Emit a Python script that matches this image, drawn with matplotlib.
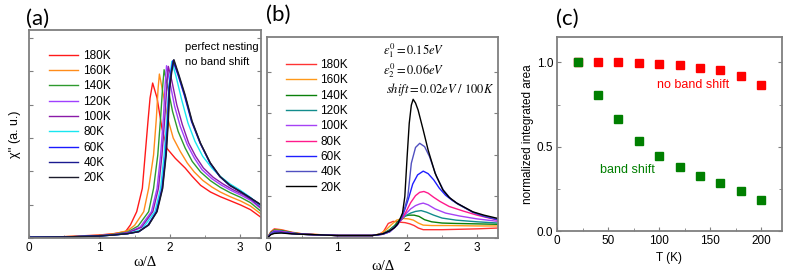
import matplotlib
matplotlib.use('Agg')
import matplotlib.pyplot as plt
from matplotlib.ticker import MultipleLocator

plt.rcParams['font.family'] = ['Liberation Sans', 'DejaVu Sans']
plt.rcParams['mathtext.fontset'] = 'stix'

# ---- panel (a): perfect nesting, no band shift ----
a_labels = ['180K', '160K', '140K', '120K', '100K', '80K', '60K', '40K', '20K']
a_colors = ['#ff1a1a', '#ff8c1a', '#2e9a2e', '#a040ff', '#8a1aa8',
            '#19e6f0', '#1a1aff', '#1a1a90', '#1c1c2c']

a_x_180 = [0.0, 0.5, 1.0, 1.2, 1.37, 1.44, 1.53, 1.61, 1.65, 1.69, 1.72, 1.757,
           1.82, 1.89, 1.96, 2.08, 2.22, 2.32, 2.44, 2.58, 2.72, 2.86, 3.01, 3.15, 3.3]
a_y_180 = [0.02, 0.04, 0.09, 0.13, 0.19, 0.39, 0.79, 1.49, 2.49, 3.49, 4.2, 4.65,
           4.2, 3.29, 2.69, 2.39, 2.1, 1.85, 1.58, 1.38, 1.24, 1.12, 0.99, 0.85, 0.62]

a_x_160 = [0.0, 0.5, 1.0, 1.2, 1.4, 1.5, 1.63, 1.70, 1.77, 1.81, 1.835, 1.853,
           1.90, 1.97, 2.05, 2.15, 2.25, 2.35, 2.47, 2.6, 2.72, 2.86, 3.01, 3.15, 3.3]
a_y_160 = [0.02, 0.04, 0.08, 0.12, 0.22, 0.38, 0.79, 1.49, 2.49, 3.6, 4.5, 4.92,
           4.4, 3.6, 3.0, 2.6, 2.25, 1.98, 1.73, 1.53, 1.38, 1.24, 1.11, 0.96, 0.72]

a_x_140 = [0.0, 0.5, 1.0, 1.2, 1.4, 1.55, 1.70, 1.77, 1.83, 1.87, 1.90, 1.92,
           1.97, 2.04, 2.12, 2.22, 2.32, 2.44, 2.58, 2.72, 2.86, 3.01, 3.15, 3.3]
a_y_140 = [0.02, 0.03, 0.07, 0.11, 0.18, 0.36, 0.79, 1.49, 2.49, 3.6, 4.55, 5.05,
           4.55, 3.8, 3.2, 2.7, 2.3, 1.98, 1.72, 1.52, 1.36, 1.22, 1.06, 0.8]

a_x_120 = [0.0, 0.5, 1.0, 1.2, 1.4, 1.58, 1.74, 1.82, 1.87, 1.91, 1.935, 1.955,
           2.0, 2.07, 2.15, 2.25, 2.35, 2.46, 2.6, 2.74, 2.88, 3.02, 3.16, 3.3]
a_y_120 = [0.02, 0.03, 0.07, 0.1, 0.16, 0.33, 0.79, 1.49, 2.49, 3.6, 4.6, 5.17,
           4.7, 3.95, 3.35, 2.8, 2.4, 2.05, 1.78, 1.58, 1.42, 1.28, 1.12, 0.88]

a_x_100 = [0.0, 0.5, 1.0, 1.2, 1.4, 1.6, 1.76, 1.84, 1.89, 1.93, 1.96, 1.98,
           2.03, 2.1, 2.18, 2.27, 2.37, 2.48, 2.62, 2.76, 2.9, 3.04, 3.17, 3.3]
a_y_100 = [0.02, 0.03, 0.07, 0.1, 0.15, 0.32, 0.79, 1.49, 2.49, 3.6, 4.6, 5.15,
           4.72, 4.0, 3.4, 2.85, 2.45, 2.1, 1.82, 1.62, 1.45, 1.31, 1.14, 0.9]

a_x_80 = [0.0, 0.5, 1.0, 1.2, 1.4, 1.6, 1.79, 1.87, 1.92, 1.96, 1.99, 2.03,
          2.09, 2.17, 2.26, 2.36, 2.47, 2.6, 2.72, 2.86, 3.0, 3.15, 3.3]
a_y_80 = [0.02, 0.03, 0.06, 0.09, 0.13, 0.25, 0.79, 1.49, 2.49, 3.6, 4.6, 5.3,
          4.85, 4.15, 3.45, 2.9, 2.45, 2.1, 1.85, 1.62, 1.44, 1.22, 0.95]

a_x_60 = [0.0, 0.5, 1.0, 1.2, 1.4, 1.56, 1.69, 1.81, 1.89, 1.94, 1.97, 1.99, 2.02,
          2.045, 2.12, 2.21, 2.31, 2.43, 2.57, 2.71, 2.85, 3.0, 3.15, 3.3]
a_y_60 = [0.02, 0.03, 0.06, 0.09, 0.13, 0.19, 0.39, 0.79, 1.49, 2.49, 3.49, 4.5,
          5.0, 5.32, 4.88, 4.27, 3.5, 2.86, 2.26, 1.85, 1.58, 1.4, 1.2, 0.98]

a_x_40 = [0.0, 0.5, 1.0, 1.2, 1.4, 1.56, 1.70, 1.815, 1.895, 1.945, 1.975, 1.995,
          2.025, 2.055, 2.125, 2.215, 2.315, 2.435, 2.575, 2.715, 2.855, 3.005, 3.15, 3.3]
a_y_40 = [0.02, 0.03, 0.06, 0.09, 0.13, 0.19, 0.39, 0.79, 1.49, 2.49, 3.49, 4.5,
          5.0, 5.34, 4.89, 4.28, 3.5, 2.85, 2.25, 1.84, 1.58, 1.39, 1.2, 0.99]

a_x_20 = [0.0, 0.5, 1.0, 1.2, 1.4, 1.56, 1.70, 1.82, 1.90, 1.95, 1.98, 2.00,
          2.03, 2.06, 2.13, 2.22, 2.32, 2.44, 2.58, 2.72, 2.86, 3.01, 3.15, 3.3]
a_y_20 = [0.02, 0.03, 0.06, 0.09, 0.13, 0.19, 0.39, 0.79, 1.49, 2.49, 3.49, 4.5,
          5.0, 5.35, 4.9, 4.29, 3.5, 2.84, 2.25, 1.84, 1.58, 1.39, 1.2, 1.0]

a_xs = [a_x_180, a_x_160, a_x_140, a_x_120, a_x_100, a_x_80, a_x_60, a_x_40, a_x_20]
a_ys = [a_y_180, a_y_160, a_y_140, a_y_120, a_y_100, a_y_80, a_y_60, a_y_40, a_y_20]

# ---- panel (b): with band shift ----
b_labels = ['180K', '160K', '140K', '120K', '100K', '80K', '60K', '40K', '20K']
b_colors = ['#ff3333', '#ff9919', '#0a800a', '#128c8c', '#a642f5',
            '#ff1a8c', '#1f1fff', '#5050c0', '#000000']

b_x_180 = [0.0, 0.05, 0.1, 0.2, 0.35, 0.5, 1.0, 1.5, 1.6, 1.66, 1.73, 1.8, 1.9,
           1.97, 2.04, 2.1, 2.16, 2.23, 2.5, 3.0, 3.3]
b_y_180 = [0.0, 0.15, 0.22, 0.2, 0.14, 0.1, 0.06, 0.06, 0.09, 0.15, 0.35, 0.4, 0.38,
           0.37, 0.34, 0.3, 0.24, 0.2, 0.2, 0.22, 0.24]

b_x_160 = [0.0, 0.05, 0.1, 0.2, 0.35, 0.5, 1.0, 1.5, 1.62, 1.7, 1.78, 1.85, 1.94,
           2.02, 2.09, 2.16, 2.23, 2.35, 2.6, 3.0, 3.3]
b_y_160 = [0.0, 0.14, 0.2, 0.19, 0.13, 0.1, 0.06, 0.06, 0.1, 0.2, 0.33, 0.43, 0.47,
           0.46, 0.43, 0.36, 0.31, 0.3, 0.3, 0.29, 0.29]

b_x_140 = [0.0, 0.05, 0.1, 0.2, 0.35, 0.5, 1.0, 1.5, 1.65, 1.75, 1.82, 1.88, 1.95,
           2.02, 2.1, 2.17, 2.25, 2.35, 2.5, 2.7, 3.0, 3.3]
b_y_140 = [0.0, 0.13, 0.19, 0.18, 0.13, 0.09, 0.06, 0.06, 0.1, 0.2, 0.3, 0.42, 0.52,
           0.55, 0.55, 0.52, 0.44, 0.39, 0.36, 0.35, 0.34, 0.33]

b_x_120 = [0.0, 0.05, 0.1, 0.2, 0.35, 0.5, 1.0, 1.5, 1.65, 1.75, 1.85, 1.92, 1.98,
           2.05, 2.12, 2.2, 2.28, 2.38, 2.5, 2.7, 3.0, 3.3]
b_y_120 = [0.0, 0.12, 0.18, 0.17, 0.12, 0.09, 0.06, 0.06, 0.1, 0.18, 0.32, 0.44, 0.54,
           0.6, 0.64, 0.66, 0.62, 0.55, 0.48, 0.43, 0.39, 0.36]

b_x_100 = [0.0, 0.05, 0.1, 0.2, 0.35, 0.5, 1.0, 1.5, 1.65, 1.75, 1.85, 1.92, 1.98,
           2.05, 2.12, 2.18, 2.23, 2.3, 2.4, 2.55, 2.75, 3.0, 3.3]
b_y_100 = [0.0, 0.11, 0.17, 0.16, 0.12, 0.09, 0.06, 0.06, 0.1, 0.17, 0.3, 0.45, 0.58,
           0.7, 0.78, 0.82, 0.84, 0.8, 0.7, 0.6, 0.53, 0.46, 0.4]

b_x_80 = [0.0, 0.05, 0.1, 0.2, 0.35, 0.5, 1.0, 1.5, 1.65, 1.75, 1.85, 1.92, 1.98,
          2.05, 2.12, 2.18, 2.24, 2.3, 2.38, 2.47, 2.6, 2.8, 3.0, 3.15, 3.3]
b_y_80 = [0.0, 0.1, 0.16, 0.15, 0.11, 0.09, 0.06, 0.06, 0.09, 0.15, 0.3, 0.45, 0.62,
          0.85, 1.02, 1.1, 1.12, 1.08, 0.98, 0.88, 0.76, 0.65, 0.55, 0.49, 0.43]

b_x_60 = [0.0, 0.05, 0.1, 0.2, 0.35, 0.5, 1.0, 1.5, 1.65, 1.75, 1.85, 1.92, 1.97,
          2.02, 2.08, 2.15, 2.23, 2.3, 2.38, 2.46, 2.55, 2.65, 2.75, 2.94, 3.1, 3.3]
b_y_60 = [0.0, 0.1, 0.15, 0.14, 0.11, 0.09, 0.06, 0.06, 0.09, 0.15, 0.3, 0.48, 0.7,
          0.95, 1.3, 1.52, 1.61, 1.55, 1.4, 1.2, 1.03, 0.9, 0.8, 0.62, 0.52, 0.44]

b_x_40 = [0.0, 0.05, 0.1, 0.2, 0.35, 0.5, 1.0, 1.5, 1.65, 1.75, 1.85, 1.92, 1.97,
          2.01, 2.06, 2.12, 2.18, 2.25, 2.32, 2.42, 2.52, 2.62, 2.72, 2.94, 3.1, 3.3]
b_y_40 = [0.0, 0.1, 0.14, 0.13, 0.1, 0.09, 0.06, 0.06, 0.09, 0.15, 0.3, 0.5, 0.75,
          1.0, 1.8, 2.18, 2.28, 2.2, 1.96, 1.48, 1.15, 0.95, 0.82, 0.62, 0.53, 0.45]

b_x_20 = [0.0, 0.05, 0.1, 0.2, 0.35, 0.5, 1.0, 1.5, 1.65, 1.75, 1.82, 1.87, 1.934,
          1.967, 2.0, 2.03, 2.06, 2.086, 2.12, 2.157, 2.23, 2.3, 2.4, 2.51, 2.6,
          2.71, 2.94, 3.1, 3.3]
b_y_20 = [0.0, 0.08, 0.11, 0.12, 0.1, 0.09, 0.06, 0.06, 0.1, 0.17, 0.25, 0.35, 0.6,
          1.0, 1.96, 2.76, 3.2, 3.34, 3.25, 3.08, 2.6, 2.12, 1.56, 1.16, 0.98,
          0.84, 0.63, 0.55, 0.47]

b_xs = [b_x_180, b_x_160, b_x_140, b_x_120, b_x_100, b_x_80, b_x_60, b_x_40, b_x_20]
b_ys = [b_y_180, b_y_160, b_y_140, b_y_120, b_y_100, b_y_80, b_y_60, b_y_40, b_y_20]

# ---- panel (c): normalized integrated area ----
temps = [20, 40, 60, 80, 100, 120, 140, 160, 180, 200]
area_no_shift = [1.0, 1.0, 1.0, 0.996, 0.992, 0.984, 0.968, 0.953, 0.921, 0.868]
area_shift = [1.0, 0.808, 0.664, 0.536, 0.447, 0.38, 0.329, 0.286, 0.24, 0.185]

SPINE = '#7f7f7f'
SERIF = ['Liberation Serif', 'DejaVu Serif']


def style_axes(ax):
    for s in ax.spines.values():
        s.set_color(SPINE)
        s.set_linewidth(1.3)
    ax.tick_params(which='both', direction='in', right=True, color=SPINE,
                   labelsize=8.5, pad=3)
    ax.tick_params(which='major', length=3)
    ax.tick_params(which='minor', length=2)


def spectrum_panel(ax, xs, ys, labels, colors, ytop, legend_xy):
    for x, y, lab, c in zip(xs, ys, labels, colors):
        ax.plot(x, y, color=c, lw=1.0, label=lab)
    ax.set_xlim(0, 3.3)
    ax.set_ylim(0, ytop)
    ax.xaxis.set_major_locator(MultipleLocator(1))
    ax.xaxis.set_minor_locator(MultipleLocator(0.5))
    ax.yaxis.set_major_locator(MultipleLocator(1))
    ax.set_yticklabels([])
    style_axes(ax)
    ax.legend(loc='upper left', bbox_to_anchor=legend_xy, frameon=False,
              fontsize=8.5, handlelength=2.5, handletextpad=0.4,
              labelspacing=0.28, borderpad=0, borderaxespad=0)


fig = plt.figure(figsize=(7.89, 2.78), dpi=100)

ax1 = fig.add_axes([0.0371, 0.1439, 0.2937, 0.748])
spectrum_panel(ax1, a_xs, a_ys, a_labels, a_colors, 6.24, (0.085, 0.905))
ax1.set_xlabel('ω/Δ', fontsize=10.5, family=SERIF, labelpad=1)
ax1.set_ylabel("χ'' (a. u.)", fontsize=9, labelpad=3)
ax1.text(0.672, 0.92, 'perfect nesting', transform=ax1.transAxes,
         fontsize=8, va='center')
ax1.text(0.672, 0.848, 'no band shift', transform=ax1.transAxes,
         fontsize=8, va='center')

ax2 = fig.add_axes([0.3388, 0.1439, 0.2924, 0.723])
spectrum_panel(ax2, b_xs, b_ys, b_labels, b_colors, 4.84, (0.082, 0.89))
ax2.set_xlabel('ω/Δ', fontsize=10.5, family=SERIF, labelpad=4)
ax2.text(0.50, 0.932, r'$\varepsilon_1^0 = 0.15eV$', transform=ax2.transAxes,
         fontsize=9, va='center')
ax2.text(0.50, 0.831, r'$\varepsilon_2^0 = 0.06eV$', transform=ax2.transAxes,
         fontsize=9, va='center')
ax2.text(0.515, 0.74, r'$shift = 0.02eV\ /\ 100K$', transform=ax2.transAxes,
         fontsize=9, va='center')

ax3 = fig.add_axes([0.7063, 0.168, 0.2844, 0.699])
ax3.plot(temps, area_no_shift, 's', color='#ff0000', ms=6, mec='#ff0000')
ax3.plot(temps, area_shift, 's', color='#007f00', ms=6, mec='#007f00')
ax3.set_xlim(0, 220)
ax3.set_ylim(0, 1.15)
ax3.xaxis.set_major_locator(MultipleLocator(50))
ax3.xaxis.set_minor_locator(MultipleLocator(25))
ax3.yaxis.set_major_locator(MultipleLocator(0.5))
ax3.yaxis.set_minor_locator(MultipleLocator(0.25))
ax3.yaxis.set_major_formatter(plt.FormatStrFormatter('%.1f'))
style_axes(ax3)
ax3.set_xlabel('T (K)', fontsize=8.5, labelpad=3)
ax3.set_ylabel('normalized integrated area', fontsize=8.5, labelpad=2)
ax3.text(98, 0.866, 'no band shift', color='#ff0000', fontsize=9, va='center')
ax3.text(42, 0.36, 'band shift', color='#007f00', fontsize=9, va='center')

for lab, x, y in [('(a)', 0.033, 0.932), ('(b)', 0.337, 0.948), ('(c)', 0.705, 0.932)]:
    fig.text(x, y, lab, fontsize=16, family=['Lato', 'DejaVu Sans'], va='center')

fig.savefig('out.png', dpi=100)
